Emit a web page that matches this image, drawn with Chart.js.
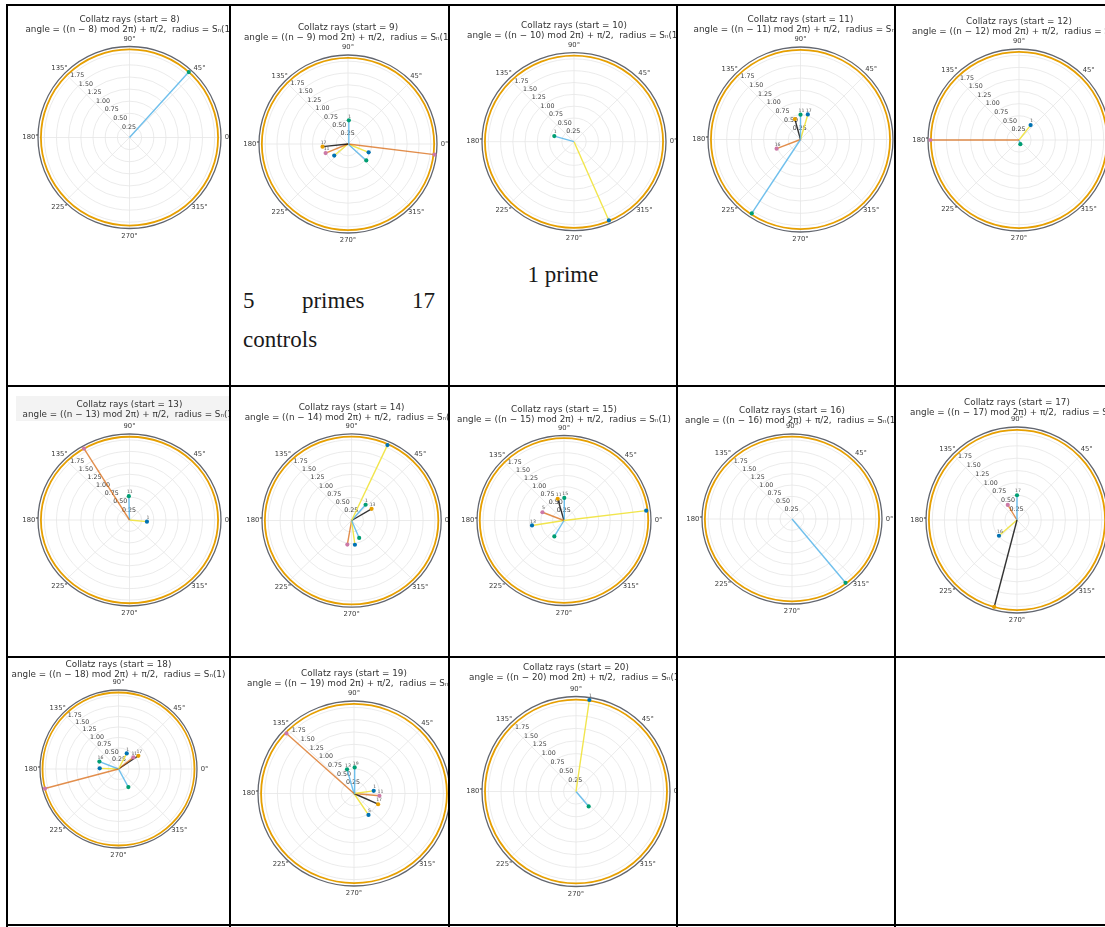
<!DOCTYPE html>
<html>
<head>
<meta charset="utf-8">
<script src="https://cdn.jsdelivr.net/npm/chart.js@4.4.0/dist/chart.umd.min.js"></script>
<style>
  html, body { margin: 0; padding: 0; background: #fff; }
  body { width: 1105px; height: 927px; position: relative; overflow: hidden; }
  .rule { position: absolute; background: #000; }
  .cell { position: absolute; overflow: hidden; }
  .cell canvas { position: absolute; }
  .note { position: absolute; font-family: "Liberation Serif", "DejaVu Serif", serif; font-size: 23px; line-height: 23px; color: #1a1a1a; white-space: nowrap; }
</style>
</head>
<body>
<div id="page"></div>
<div class="note" style="left:243px; top:289px; width:192px; display:flex; justify-content:space-between;"><span>5</span><span>primes</span><span>17</span></div>
<div class="note" style="left:243px; top:328px;">controls</div>
<div class="note" style="left:450px; top:263px; width:226px; text-align:center;">1 prime</div>

<script>
// ---- radial / angular axis settings ----
const RMAX = 1.88;   // radial limit of each polar panel
const RING = 1.82;   // reference ring radius
const rTicks = [0.25, 0.5, 0.75, 1.0, 1.25, 1.5, 1.75];
const rTickLabels = ['0.25', '0.50', '0.75', '1.00', '1.25', '1.50', '1.75'];
const thetaTicks = [0, 45, 90, 135, 180, 225, 270, 315];
const thetaTickLabels = ['0°', '45°', '90°', '135°', '180°', '225°', '270°', '315°'];

// ---- starting values, one panel each ----
const starts = [8, 9, 10, 11, 12, 13, 14, 15, 16, 17, 18, 19, 20];

// ---- rays per start: [angle (deg), radius, series, end label] ----
const rays8  = [[48, 1.82, 'A', '']];
const rays9  = [[88, 0.50, 'A', '1'], [-7, 1.84, 'C', ''], [186, 0.54, 'D', '17'], [202, 0.51, 'C', '11'], [220, 0.38, 'B', ''], [-42, 0.52, 'A', ''], [-22, 0.47, 'B', '']];
const rays10 = [[163.5, 0.42, 'A', '1'], [-66.8, 1.81, 'B', '']];
const rays11 = [[236.6, 1.80, 'A', ''], [201, 0.52, 'C', '16'], [90, 0.505, 'A', '11'], [73.7, 0.53, 'B', '17'], [105.4, 0.43, 'D', '']];
const rays12 = [[180, 1.83, 'C', ''], [52, 0.39, 'B', '1'], [-72, 0.09, 'A', '']];
const rays13 = [[120.9, 1.82, 'C', ''], [91.5, 0.52, 'A', '11'], [-5.8, 0.36, 'B', '1']];
const rays14 = [[65.3, 1.80, 'B', ''], [49.3, 0.45, 'A', '1'], [31.2, 0.49, 'D', '13'], [-67.2, 0.41, 'A', ''], [-82.5, 0.53, 'B', ''], [-99.7, 0.53, 'C', '']];
const rays15 = [[7, 1.79, 'B', ''], [239.4, 0.41, 'A', ''], [158.6, 0.50, 'C', '5'], [189, 0.70, 'B', '13'], [89.3, 0.50, 'A', '15'], [105.8, 0.50, 'D', '11']];
const rays16 = [[-51.6, 1.80, 'A', '']];
const rays17 = [[255, 1.82, 'D', ''], [220.5, 0.49, 'B', '16'], [90, 0.50, 'A', '17'], [122, 0.36, 'C', '']];
const rays18 = [[194.8, 1.82, 'C', ''], [159, 0.49, 'A', '16'], [178, 0.45, 'B', ''], [-61.2, 0.49, 'A', ''], [62, 0.42, 'B', '1'], [37.8, 0.45, 'C', '11'], [33.5, 0.57, 'D', '17']];
const rays19 = [[137.3, 1.80, 'C', ''], [88.6, 0.53, 'A', '19'], [105.5, 0.51, 'A', '13'], [8, 0.39, 'B', '1'], [-5.3, 0.50, 'C', '11'], [-24.8, 0.52, 'D', '17'], [-56.9, 0.52, 'B', '5']];
const rays20 = [[81.6, 1.83, 'B', '1'], [-49.4, 0.39, 'A', '']];

const raysByStart = {8: rays8, 9: rays9, 10: rays10, 11: rays11, 12: rays12, 13: rays13, 14: rays14,
                     15: rays15, 16: rays16, 17: rays17, 18: rays18, 19: rays19, 20: rays20};

// ---- series styles (line colour, end-dot colour) ----
const seriesStyle = {
  A: { line: 'rgba(86,180,233,0.85)', dot: '#009E73' },
  B: { line: 'rgba(240,228,66,0.95)', dot: '#0072B2' },
  C: { line: 'rgba(213,94,0,0.70)',   dot: '#CC79A7' },
  D: { line: 'rgba(0,0,0,0.80)',      dot: '#E69F00' }
};

// ---- table grid ----
const colX = [6, 229, 448, 676, 894, 1105];
const rowY = [4, 385, 656, 924];

// ---- panel placement on the page (centre, radii in px, first title line) ----
const layout = {
  8:  { col: 0, row: 0, cx: 129,   cy: 137.5, rx: 91.5, ry: 91,   titleY: 20 },
  9:  { col: 1, row: 0, cx: 348,   cy: 144,   rx: 89,   ry: 89,   titleY: 28 },
  10: { col: 2, row: 0, cx: 573.7, cy: 141.7, rx: 92,   ry: 89,   titleY: 26 },
  11: { col: 3, row: 0, cx: 800.5, cy: 139.5, rx: 92.5, ry: 92.5, titleY: 20 },
  12: { col: 4, row: 0, cx: 1019,  cy: 140,   rx: 91,   ry: 91,   titleY: 22 },
  13: { col: 0, row: 1, cx: 129.5, cy: 520,   rx: 91.5, ry: 86,   titleY: 405, band: true },
  14: { col: 1, row: 1, cx: 351.3, cy: 520.5, rx: 89.6, ry: 86.7, titleY: 408 },
  15: { col: 2, row: 1, cx: 563.7, cy: 520.5, rx: 87,   ry: 85,   titleY: 410 },
  16: { col: 3, row: 1, cx: 791.7, cy: 519,   rx: 90,   ry: 85,   titleY: 411 },
  17: { col: 4, row: 1, cx: 1016.7,cy: 520,   rx: 91,   ry: 93,   titleY: 403 },
  18: { col: 0, row: 2, cx: 118,   cy: 769,   rx: 78.5, ry: 79,   titleY: 665 },
  19: { col: 1, row: 2, cx: 353.5, cy: 793.5, rx: 96,   ry: 92.5, titleY: 674 },
  20: { col: 2, row: 2, cx: 576,   cy: 791.5, rx: 94,   ry: 95,   titleY: 668 }
};

const page = document.getElementById('page');

function addRule(left, top, width, height) {
  const d = document.createElement('div');
  d.className = 'rule';
  Object.assign(d.style, { left: left + 'px', top: top + 'px', width: width + 'px', height: height + 'px' });
  document.body.appendChild(d);
}
colX.slice(0, 5).forEach(x => addRule(x, rowY[0], 2, 927 - rowY[0]));
rowY.forEach(y => addRule(colX[0], y, 1105 - colX[0], 2));

function cellBox(col, row) {
  return { left: colX[col] + 2, top: rowY[row] + 2,
           width: colX[col + 1] - colX[col] - 2, height: rowY[row + 1] - rowY[row] - 2 };
}

// polar frame: grid rings, spokes, reference ring, boundary, tick labels, titles
const polarFrame = {
  id: 'polarFrame',
  beforeDatasetsDraw(chart, args, opts) {
    const { ctx, chartArea, scales: { x, y } } = chart;
    const cx = x.getPixelForValue(0), cy = y.getPixelForValue(0);
    const kx = x.getPixelForValue(1) - cx, ky = cy - y.getPixelForValue(1);
    ctx.save();
    if (opts.band) {
      ctx.fillStyle = '#f3f3f3';
      ctx.fillRect(chartArea.left - 22, opts.titleY - 10, chart.width, 26);
    }
    ctx.strokeStyle = '#e6e6e6';
    ctx.lineWidth = 0.8;
    rTicks.forEach(r => {
      ctx.beginPath(); ctx.ellipse(cx, cy, r * kx, r * ky, 0, 0, Math.PI * 2); ctx.stroke();
    });
    thetaTicks.forEach(d => {
      const t = d * Math.PI / 180;
      ctx.beginPath(); ctx.moveTo(cx, cy);
      ctx.lineTo(cx + RMAX * kx * Math.cos(t), cy - RMAX * ky * Math.sin(t)); ctx.stroke();
    });
    ctx.strokeStyle = '#E69F00';
    ctx.lineWidth = 1.8;
    ctx.beginPath(); ctx.ellipse(cx, cy, RING * kx, RING * ky, 0, 0, Math.PI * 2); ctx.stroke();
    ctx.strokeStyle = '#62666f';
    ctx.lineWidth = 1.3;
    ctx.beginPath(); ctx.ellipse(cx, cy, RMAX * kx, RMAX * ky, 0, 0, Math.PI * 2); ctx.stroke();
    ctx.fillStyle = '#3c3c3c';
    ctx.font = '6.3px "DejaVu Sans"';
    ctx.textAlign = 'center';
    ctx.textBaseline = 'middle';
    const a = 135 * Math.PI / 180;
    rTicks.forEach((r, i) => {
      const px = cx + r * kx * Math.cos(a), py = cy - r * ky * Math.sin(a);
      ctx.fillText(rTickLabels[i], px + 8, py - 2);
    });
    ctx.restore();
  },
  afterDatasetsDraw(chart, args, opts) {
    const { ctx, chartArea, scales: { x, y } } = chart;
    const cx = x.getPixelForValue(0), cy = y.getPixelForValue(0);
    const ex = x.getPixelForValue(RMAX) - cx, ey = cy - y.getPixelForValue(RMAX);
    ctx.save();
    ctx.textAlign = 'center';
    ctx.textBaseline = 'middle';
    ctx.fillStyle = '#555';
    ctx.font = '4.6px "DejaVu Sans"';
    chart.data.datasets.forEach((ds, i) => {
      if (!ds.tag) return;
      const pt = chart.getDatasetMeta(i).data[1];
      ctx.fillText(ds.tag, pt.x + 1, pt.y - 4);
    });
    ctx.fillStyle = '#3c3c3c';
    ctx.font = '6.8px "DejaVu Sans"';
    thetaTicks.forEach((d, i) => {
      const t = d * Math.PI / 180;
      ctx.fillText(thetaTickLabels[i], cx + (ex + 7.5) * Math.cos(t), cy - (ey + 7.5) * Math.sin(t));
    });
    const tx = (chartArea.left + chartArea.right) / 2;
    ctx.fillStyle = '#333';
    ctx.font = '8.8px "DejaVu Sans"';
    ctx.fillText('Collatz rays (start = ' + opts.start + ')', tx, opts.titleY);
    ctx.fillText('angle = ((n − ' + opts.start + ') mod 2π) + π/2,  radius = Sₙ(1)', tx, opts.titleY + 10);
    ctx.restore();
  }
};

starts.forEach(start => {
  const p = layout[start];
  const rays = raysByStart[start];
  const box = cellBox(p.col, p.row);

  const cell = document.createElement('div');
  cell.className = 'cell';
  Object.assign(cell.style, { left: box.left + 'px', top: box.top + 'px', width: box.width + 'px', height: box.height + 'px' });
  page.appendChild(cell);

  const padX = 48;
  const top = p.titleY - 9;
  const padTop = p.cy - p.ry - top;
  const padBottom = 22;
  const w = Math.round(2 * p.rx + 2 * padX);
  const h = Math.round(padTop + 2 * p.ry + padBottom);
  const left = p.cx - p.rx - padX;

  const canvas = document.createElement('canvas');
  canvas.width = w; canvas.height = h;
  canvas.style.width = w + 'px'; canvas.style.height = h + 'px';
  canvas.style.left = (left - box.left) + 'px';
  canvas.style.top = (top - box.top) + 'px';
  cell.appendChild(canvas);

  const datasets = rays.map(([deg, r, key, tag]) => {
    const t = deg * Math.PI / 180;
    const st = seriesStyle[key];
    return {
      data: [{ x: 0, y: 0 }, { x: r * Math.cos(t), y: r * Math.sin(t) }],
      showLine: true,
      borderColor: st.line,
      borderWidth: 1.4,
      pointRadius: [0, 2.1],
      pointHoverRadius: 0,
      pointBackgroundColor: st.dot,
      pointBorderWidth: 0,
      tag: tag
    };
  });

  new Chart(canvas, {
    type: 'scatter',
    data: { datasets },
    options: {
      responsive: false,
      animation: false,
      devicePixelRatio: 1,
      events: [],
      layout: { padding: { left: padX, right: w - padX - 2 * p.rx, top: padTop, bottom: h - padTop - 2 * p.ry } },
      scales: {
        x: { type: 'linear', min: -RMAX, max: RMAX, display: false },
        y: { type: 'linear', min: -RMAX, max: RMAX, display: false }
      },
      plugins: {
        legend: { display: false },
        tooltip: { enabled: false },
        polarFrame: { start: start, titleY: p.titleY - top, band: !!p.band }
      }
    },
    plugins: [polarFrame]
  });
});
</script>
</body>
</html>
